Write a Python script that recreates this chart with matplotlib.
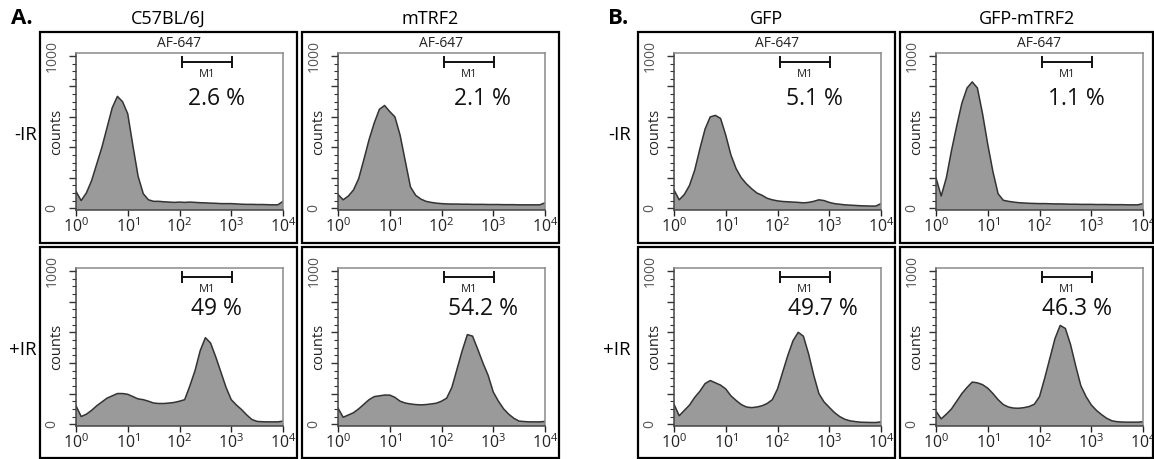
import matplotlib
matplotlib.use('Agg')
import matplotlib.pyplot as plt
import matplotlib.patches as patches
from matplotlib.ticker import FixedLocator, FixedFormatter, LogLocator, NullFormatter

plt.rcParams['font.family'] = ['Open Sans', 'DejaVu Sans']
plt.rcParams['mathtext.default'] = 'regular'

W, H = 1154, 459

# fluorescence channel (log10 of AF-647 intensity), sampling points
log_fl = [0.0, 0.1, 0.2, 0.3, 0.4, 0.5, 0.6, 0.7, 0.8, 0.9,
          1.0, 1.1, 1.2, 1.3, 1.4, 1.5, 1.6, 1.7, 1.8, 1.9,
          2.0, 2.1, 2.2, 2.3, 2.4, 2.5, 2.6, 2.7, 2.8, 2.9,
          3.0, 3.1, 3.2, 3.3, 3.4, 3.5, 3.6, 3.7, 3.8, 3.9, 4.0]

# counts, -IR row
c57_minus = [110, 50, 100, 180, 290, 400, 530, 660, 735, 700,
             620, 410, 210, 95, 55, 45, 45, 42, 40, 38,
             40, 38, 40, 38, 36, 35, 33, 32, 30, 30,
             30, 28, 26, 25, 25, 24, 24, 23, 22, 22, 45]
mtrf2_minus = [90, 55, 80, 120, 195, 320, 450, 560, 650, 675,
               635, 600, 480, 310, 140, 85, 60, 45, 38, 33,
               30, 28, 27, 27, 26, 26, 25, 25, 25, 24,
               24, 24, 23, 23, 23, 22, 22, 22, 22, 22, 35]
gfp_minus = [120, 55, 90, 150, 250, 390, 520, 600, 610, 590,
             480, 350, 260, 200, 160, 128, 100, 85, 65, 55,
             48, 44, 42, 40, 38, 35, 38, 45, 55, 50,
             38, 30, 26, 22, 20, 18, 16, 15, 14, 14, 30]
gfp_mtrf2_minus = [200, 80, 200, 380, 540, 690, 790, 830, 790, 620,
                   420, 240, 95, 52, 45, 40, 36, 34, 32, 31,
                   30, 30, 29, 28, 28, 27, 26, 26, 25, 25,
                   25, 24, 24, 24, 23, 23, 23, 22, 22, 22, 30]

# counts, +IR row
c57_plus = [120, 50, 65, 90, 120, 145, 170, 185, 200, 200,
            195, 180, 165, 160, 150, 138, 135, 135, 138, 142,
            150, 160, 250, 350, 480, 565, 530, 440, 340, 240,
            160, 125, 95, 60, 30, 18, 16, 15, 15, 15, 20]
mtrf2_plus = [105, 45, 60, 75, 100, 130, 160, 180, 185, 190,
              190, 175, 150, 138, 132, 128, 126, 128, 132, 137,
              150, 170, 240, 360, 480, 585, 575, 490, 400, 320,
              210, 150, 100, 65, 38, 20, 17, 15, 15, 15, 18]
gfp_plus = [130, 55, 90, 125, 175, 215, 265, 285, 270, 255,
            230, 185, 155, 128, 112, 108, 112, 120, 135, 160,
            230, 340, 450, 545, 600, 575, 460, 320, 200, 145,
            110, 76, 50, 32, 22, 17, 13, 12, 11, 11, 15]
gfp_mtrf2_plus = [85, 35, 65, 100, 150, 200, 240, 275, 270, 258,
                  235, 200, 160, 128, 112, 105, 104, 108, 115, 130,
                  180, 300, 430, 560, 645, 625, 520, 380, 250, 180,
                  126, 90, 62, 38, 22, 16, 14, 13, 13, 13, 16]

counts = [[c57_minus, mtrf2_minus, gfp_minus, gfp_mtrf2_minus],
          [c57_plus, mtrf2_plus, gfp_plus, gfp_mtrf2_plus]]

col_titles = ['C57BL/6J', 'mTRF2', 'GFP', 'GFP-mTRF2']
row_labels = ['-IR', '+IR']
pct = [['2.6', '2.1', '5.1', '1.1'],
       ['49', '54.2', '49.7', '46.3']]
gate_m1 = [110, 1050]
xtick_vals = [1, 10, 100, 1000, 10000]
xtick_labels = ['$10^{0}$', '$10^{1}$', '$10^{2}$', '$10^{3}$', '$10^{4}$']

# layout in pixels (from top-left)
inner_x = [76, 338, 674, 936]
inner_w = 207
inner_rows = [(53, 210), (268, 426)]
outer_cols = [(40, 297), (302, 559), (638, 895), (900, 1153)]
outer_rows = [(32, 243), (247, 458)]
pct_xpos = [[0.68, 0.70, 0.68, 0.68], [0.68, 0.70, 0.72, 0.68]]
pct_ypos = [0.71, 0.74]


def rect(x0, y0, x1, y1):
    return [x0 / W, 1 - y1 / H, (x1 - x0) / W, (y1 - y0) / H]


fig = plt.figure(figsize=(W / 100, H / 100), dpi=100)

for r in range(2):
    for c in range(4):
        ox = outer_cols[c]
        oy = outer_rows[r]
        box = patches.Rectangle((ox[0] / W, 1 - oy[1] / H), (ox[1] - ox[0]) / W,
                                (oy[1] - oy[0]) / H, transform=fig.transFigure,
                                linewidth=1.6, edgecolor='black', facecolor='none')
        fig.patches.append(box)

        top, bot = inner_rows[r]
        ax = fig.add_axes(rect(inner_x[c], top, inner_x[c] + inner_w, bot))
        fl = [10 ** v for v in log_fl]
        ax.fill_between(fl, counts[r][c], -12, facecolor='#9a9a9a', edgecolor='none')
        ax.plot(fl, counts[r][c], color='#333333', linewidth=1.1)
        ax.set_xscale('log')
        ax.set_xlim(1, 10000)
        ax.set_ylim(-12, 1020)

        # x axis
        ax.xaxis.set_major_locator(FixedLocator(xtick_vals))
        ax.xaxis.set_major_formatter(FixedFormatter(xtick_labels))
        ax.xaxis.set_minor_locator(LogLocator(base=10, subs=range(2, 10)))
        ax.xaxis.set_minor_formatter(NullFormatter())
        ax.tick_params(axis='x', which='major', direction='out', length=4,
                       width=1, pad=1, labelsize=11.5, colors='#222222')
        ax.tick_params(axis='x', which='minor', direction='out', length=2.5,
                       width=0.8, colors='#222222')

        # y axis
        ax.set_yticks([0, 200, 400, 600, 800, 1000])
        ax.set_yticklabels(['0', '', '', '', '', '1000'])
        ax.yaxis.set_minor_locator(FixedLocator(range(0, 1001, 50)))
        ax.tick_params(axis='y', which='major', direction='out', length=5,
                       width=1, pad=7, labelsize=10, labelrotation=90,
                       colors='#333333', labelcolor='#555555')
        ax.tick_params(axis='y', which='minor', direction='out', length=3,
                       width=0.8, colors='#333333')
        for lbl in ax.get_yticklabels():
            lbl.set_verticalalignment('center')

        for side in ['top', 'right']:
            ax.spines[side].set_color('#8a8a8a')
        for side in ['left', 'bottom']:
            ax.spines[side].set_color('#444444')
        for sp in ax.spines.values():
            sp.set_linewidth(1.1)

        ax.text(-0.095, 0.5, 'counts', transform=ax.transAxes, rotation=90,
                ha='center', va='center', fontsize=10.5, color='#222222')

        # M1 gate marker
        ax.plot(gate_m1, [960, 960], color='#111111', linewidth=1.4)
        ax.plot(gate_m1, [960, 960], linestyle='none', marker='|',
                markersize=9, markeredgewidth=1.4, color='#111111')
        ax.text((gate_m1[0] * gate_m1[1]) ** 0.5, 880, 'M1', ha='center',
                va='center', fontsize=8, color='#222222')
        ax.text(pct_xpos[r][c], pct_ypos[r], pct[r][c] + ' %',
                transform=ax.transAxes, ha='center', va='center',
                fontsize=16.5, color='#111111')

        if r == 0:
            ax.text(0.5, 1.012, 'AF-647', transform=ax.transAxes,
                    ha='center', va='bottom', fontsize=10, color='#222222')

# column titles
for c in range(4):
    ox = outer_cols[c]
    fig.text((ox[0] + ox[1]) / 2 / W, 1 - 19 / H, col_titles[c],
             ha='center', va='center', fontsize=13)

# row labels
for x_right in [37, 631]:
    fig.text(x_right / W, 1 - 135 / H, row_labels[0], ha='right',
             va='center', fontsize=13.5)
    fig.text(x_right / W, 1 - 350 / H, row_labels[1], ha='right',
             va='center', fontsize=13.5)

fig.text(11 / W, 1 - 18 / H, 'A.', ha='left', va='center',
         fontsize=16, fontweight='bold')
fig.text(608 / W, 1 - 18 / H, 'B.', ha='left', va='center',
         fontsize=16, fontweight='bold')

fig.savefig('out.png', dpi=100)
